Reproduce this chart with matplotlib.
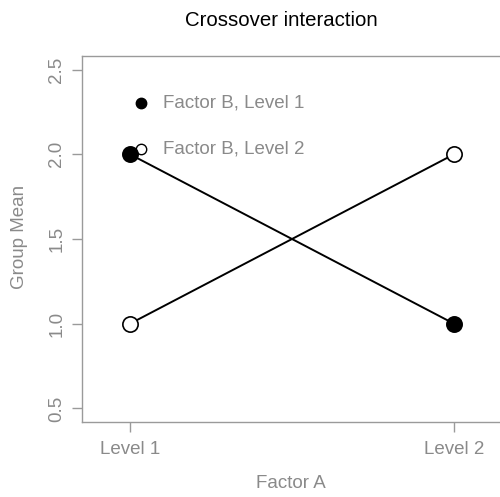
import matplotlib
matplotlib.use('Agg')
import matplotlib.pyplot as plt

plt.rcParams['font.family'] = ['Liberation Sans', 'DejaVu Sans']

factor_a = ['Level 1', 'Level 2']
level1_means = [2.0, 1.0]
level2_means = [1.0, 2.0]
legend_labels = ['Factor B, Level 1', 'Factor B, Level 2']
y_ticks = [0.5, 1.0, 1.5, 2.0, 2.5]

grey = '#8a8a8a'
spine_grey = '#9a9a9a'

W, H = 500, 497
fig = plt.figure(figsize=(W / 100, H / 100), dpi=100)
ax = fig.add_axes([82 / W, 1 - 422 / H, 420 / W, 366 / H])

x = [1, 2]
ax.plot(x, level1_means, color='black', lw=1.4, marker='o', ms=11,
        mfc='black', mec='black', mew=1.2, zorder=3)
ax.plot(x, level2_means, color='black', lw=1.4, marker='o', ms=11,
        mfc='white', mec='black', mew=1.2, zorder=3)

ax.set_xlim(0.852, 2.148)
ax.set_ylim(0.42, 2.58)
ax.set_xticks(x)
ax.set_xticklabels(factor_a)
ax.set_yticks(y_ticks)
ax.set_yticklabels([f'{v:.1f}' for v in y_ticks], rotation=90, va='center')

for s in ax.spines.values():
    s.set_color(spine_grey)
    s.set_linewidth(1.0)
ax.tick_params(colors=spine_grey, labelcolor=grey, labelsize=13.5,
               length=7, width=1.0, pad=5)
ax.tick_params(axis='x', pad=7)

# legend
ax.plot(0.1405, 0.8716, 'o', transform=ax.transAxes, ms=7.5, mfc='black',
        mec='black', clip_on=False)
ax.plot(0.1405, 0.7459, 'o', transform=ax.transAxes, ms=7.5, mfc='white',
        mec='black', mew=1.0, clip_on=False)
ax.text(0.193, 0.8716, legend_labels[0], transform=ax.transAxes,
        fontsize=13.5, color=grey, va='center', ha='left')
ax.text(0.193, 0.7459, legend_labels[1], transform=ax.transAxes,
        fontsize=13.5, color=grey, va='center', ha='left')

fig.text(281 / W, 1 - 20 / H, 'Crossover interaction', ha='center',
         va='center', fontsize=14.7, color='black')
fig.text(291 / W, 1 - 483 / H, 'Factor A', ha='center', va='center',
         fontsize=13.5, color=grey)
fig.text(20 / W, 1 - 237 / H, 'Group Mean', ha='center', va='center',
         fontsize=13.5, color=grey, rotation=90)

fig.savefig('out.png', dpi=100)
